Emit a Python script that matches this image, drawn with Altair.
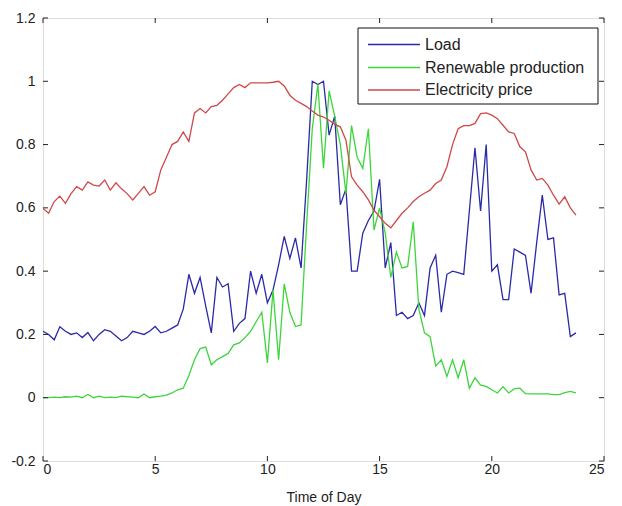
import altair as alt
import pandas as pd
import numpy as np

# ---- data (15-minute steps) ----
hours = list(np.arange(96) * 0.25)

load = [0.21, 0.20, 0.183, 0.224, 0.21, 0.20, 0.205, 0.19, 0.206, 0.18, 0.20, 0.215,
        0.21, 0.195, 0.18, 0.19, 0.21, 0.205, 0.20, 0.21, 0.225, 0.205, 0.21, 0.22,
        0.23, 0.28, 0.39, 0.33, 0.38, 0.29, 0.205, 0.38, 0.35, 0.36, 0.21, 0.235,
        0.25, 0.40, 0.33, 0.39, 0.30, 0.34, 0.42, 0.51, 0.44, 0.505, 0.41, 0.69,
        1.0, 0.99, 1.0, 0.83, 0.89, 0.61, 0.66, 0.40, 0.40, 0.52, 0.56, 0.59,
        0.69, 0.41, 0.49, 0.26, 0.27, 0.25, 0.26, 0.30, 0.26, 0.41, 0.45, 0.27,
        0.39, 0.40, 0.395, 0.39, 0.59, 0.79, 0.59, 0.80, 0.40, 0.42, 0.31, 0.31,
        0.47, 0.46, 0.45, 0.33, 0.49, 0.64, 0.50, 0.505, 0.325, 0.33, 0.193, 0.205]

renewable = [0.0, 0.0, 0.002, 0.0, 0.003, 0.002, 0.005, 0.0, 0.01, 0.0, 0.005, 0.0,
             0.002, 0.0, 0.005, 0.003, 0.002, 0.0, 0.012, 0.0, 0.003, 0.005, 0.008, 0.015,
             0.025, 0.03, 0.07, 0.12, 0.155, 0.16, 0.104, 0.12, 0.13, 0.14, 0.167, 0.173,
             0.19, 0.21, 0.24, 0.27, 0.11, 0.34, 0.12, 0.36, 0.27, 0.225, 0.23, 0.55,
             0.85, 0.99, 0.725, 0.97, 0.89, 0.80, 0.645, 0.86, 0.76, 0.725, 0.85, 0.53,
             0.60, 0.52, 0.38, 0.46, 0.41, 0.415, 0.556, 0.28, 0.205, 0.193, 0.10, 0.12,
             0.067, 0.12, 0.063, 0.12, 0.03, 0.063, 0.04, 0.036, 0.025, 0.015, 0.035, 0.015,
             0.028, 0.03, 0.013, 0.012, 0.012, 0.012, 0.012, 0.01, 0.01, 0.016, 0.02, 0.015]

price = [0.598, 0.583, 0.62, 0.637, 0.614, 0.645, 0.667, 0.656, 0.682, 0.672, 0.669, 0.688,
         0.656, 0.679, 0.66, 0.645, 0.625, 0.646, 0.667, 0.64, 0.651, 0.72, 0.76, 0.80,
         0.81, 0.84, 0.81, 0.90, 0.914, 0.90, 0.92, 0.924, 0.94, 0.96, 0.98, 0.99,
         0.98, 0.995, 0.995, 0.995, 0.995, 0.997, 1.0, 0.985, 0.956, 0.94, 0.93, 0.92,
         0.906, 0.893, 0.887, 0.877, 0.864, 0.856, 0.814, 0.698, 0.672, 0.651, 0.625, 0.593,
         0.572, 0.551, 0.537, 0.56, 0.583, 0.60, 0.62, 0.635, 0.646, 0.656, 0.677, 0.688,
         0.73, 0.80, 0.85, 0.86, 0.86, 0.867, 0.898, 0.90, 0.893, 0.882, 0.861, 0.84,
         0.835, 0.793, 0.777, 0.72, 0.688, 0.693, 0.672, 0.64, 0.612, 0.635, 0.60, 0.577]

series_names = ["Load", "Renewable production", "Electricity price"]
series_colors = ["#2a2aa8", "#3cd63c", "#d04848"]
x_ticks = [0, 5, 10, 15, 20, 25]
y_ticks = [-0.2, 0, 0.2, 0.4, 0.6, 0.8, 1.0, 1.2]

W, H = 561, 443
FONT = "Liberation Sans"

rows = []
for name, vals in zip(series_names, [load, renewable, price]):
    for i, (h, v) in enumerate(zip(hours, vals)):
        rows.append({"hour": float(h), "value": v, "series": name, "order": i})
df = pd.DataFrame(rows)

xscale = alt.Scale(domain=[0, 25], nice=False, zero=False)
yscale = alt.Scale(domain=[-0.2, 1.2], nice=False, zero=False)

lines = alt.Chart(df).mark_line(strokeWidth=1.3, clip=True).encode(
    x=alt.X("hour:Q", scale=xscale,
            axis=alt.Axis(values=x_ticks, title="Time of Day", ticks=False, domain=False,
                          grid=False, labelFont=FONT, labelFontSize=14, labelColor="#222",
                          labelPadding=1, titleFont=FONT, titleFontSize=14,
                          titleFontWeight="normal", titleColor="#222", titlePadding=14,
                          format="d")),
    y=alt.Y("value:Q", scale=yscale,
            axis=alt.Axis(values=y_ticks, title=None, ticks=False, domain=False, grid=False,
                          labelFont=FONT, labelFontSize=14, labelColor="#222",
                          labelPadding=8,
                          labelExpr="replace(format(datum.value, '~g'), '\u2212', '-')")),
    color=alt.Color("series:N", scale=alt.Scale(domain=series_names, range=series_colors),
                    legend=None),
    order="order:Q",
)

xt = pd.DataFrame({"t": x_ticks})
yt = pd.DataFrame({"t": y_ticks})
tick_style = dict(color="#222", strokeWidth=1)
xb = alt.Chart(xt).mark_rule(**tick_style).encode(
    x=alt.X("t:Q", scale=xscale), y=alt.value(H), y2=alt.value(H - 5))
xtp = alt.Chart(xt).mark_rule(**tick_style).encode(
    x=alt.X("t:Q", scale=xscale), y=alt.value(0), y2=alt.value(5))
yl = alt.Chart(yt).mark_rule(**tick_style).encode(
    y=alt.Y("t:Q", scale=yscale), x=alt.value(0), x2=alt.value(5))
yr = alt.Chart(yt).mark_rule(**tick_style).encode(
    y=alt.Y("t:Q", scale=yscale), x=alt.value(W), x2=alt.value(W - 5))

# ---- legend box (drawn by hand to match MATLAB style) ----
leg_df = pd.DataFrame({"k": [0]})
box = alt.Chart(leg_df).mark_rect(fill="white", stroke="#111", strokeWidth=1).encode(
    x=alt.value(315), x2=alt.value(555), y=alt.value(10), y2=alt.value(86))
legend_layers = [box]
row_y = [26.5, 49.5, 72]
for name, col, ry in zip(series_names, series_colors, row_y):
    d = pd.DataFrame({"label": [name]})
    legend_layers.append(
        alt.Chart(d).mark_rule(color=col, strokeWidth=1.3).encode(
            x=alt.value(325), x2=alt.value(377), y=alt.value(ry)))
    legend_layers.append(
        alt.Chart(d).mark_text(align="left", baseline="middle", font=FONT, fontSize=16,
                               color="#222").encode(
            x=alt.value(382), y=alt.value(ry), text="label:N"))

chart = alt.layer(lines, xb, xtp, yl, yr, *legend_layers).properties(
    width=W, height=H,
    autosize="none",
    padding={"left": 35, "top": 10, "right": 10, "bottom": 45},
).configure_view(stroke="#111", strokeWidth=1.2).configure(background="white")

chart.save("out.html", embed_options={"renderer": "svg", "actions": False})
